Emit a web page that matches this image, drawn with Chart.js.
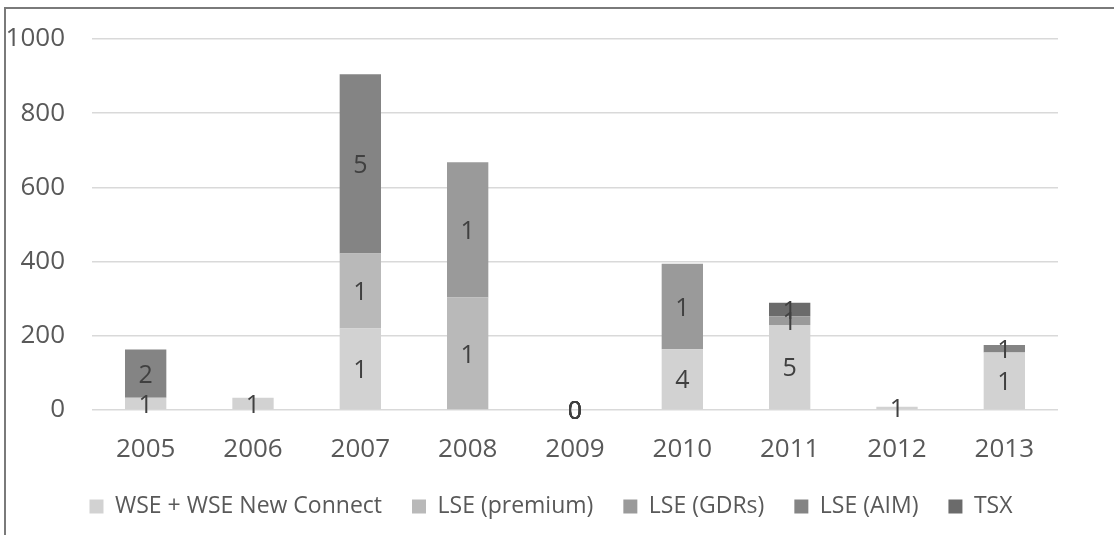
<!DOCTYPE html>
<html>
<head>
<meta charset="utf-8">
<script src="https://cdn.jsdelivr.net/npm/chart.js@4"></script>
<style>
  html, body { margin: 0; padding: 0; background: #fff; }
  #wrap { position: relative; width: 1114px; height: 535px; overflow: hidden; }
  #frame {
    position: absolute; left: 4px; top: 7px; right: -10px; bottom: -10px;
    border-top: 2px solid #7a7a7a; border-left: 2px solid #7a7a7a;
  }
  canvas { position: absolute; left: 0; top: 0; }
</style>
</head>
<body>
<div id="wrap">
  <div id="frame"></div>
  <canvas id="ipo-chart" width="1114" height="535"></canvas>
</div>
<script>
const years = ["2005", "2006", "2007", "2008", "2009", "2010", "2011", "2012", "2013"];
const yTicks = [0, 200, 400, 600, 800, 1000];

// offering values per market (stacked)
const wseValues     = [33, 33, 220, 0, 0, 164, 229, 9, 155];
const premiumValues = [0, 0, 202, 303, 0, 0, 0, 0, 0];
const gdrValues     = [0, 0, 0, 365, 0, 230, 24, 0, 0];
const aimValues     = [130, 0, 483, 0, 0, 0, 0, 0, 20];
const tsxValues     = [0, 0, 0, 0, 0, 0, 36, 0, 0];

// number of listings written on each segment (null = no label)
const wseCounts     = [1, 1, 1, null, 0, 4, 5, 1, 1];
const premiumCounts = [null, null, 1, 1, 0, null, null, null, null];
const gdrCounts     = [null, null, null, 1, 0, 1, 1, null, null];
const aimCounts     = [2, null, 5, null, 0, null, null, null, 1];
const tsxCounts     = [null, null, null, null, 0, null, 1, null, null];

const seriesNames  = ["WSE + WSE New Connect", "LSE (premium)", "LSE (GDRs)", "LSE (AIM)", "TSX"];
const seriesColors = ["#d2d2d2", "#b9b9b9", "#9a9a9a", "#848484", "#6b6b6b"];

const allValues = [wseValues, premiumValues, gdrValues, aimValues, tsxValues];
const allCounts = [wseCounts, premiumCounts, gdrCounts, aimCounts, tsxCounts];

const FONT = "'Open Sans', 'DejaVu Sans', sans-serif";

// writes the listing count in the middle of each segment
const segmentLabels = {
  id: "segmentLabels",
  afterDatasetsDraw(chart) {
    const ctx = chart.ctx;
    ctx.save();
    ctx.font = "25px " + FONT;
    ctx.fillStyle = "#404040";
    ctx.textAlign = "center";
    ctx.textBaseline = "middle";
    chart.data.datasets.forEach((ds, i) => {
      const meta = chart.getDatasetMeta(i);
      meta.data.forEach((bar, j) => {
        const n = ds.counts[j];
        if (n === null || n === undefined) return;
        const y = (bar.y + bar.base) / 2;
        ctx.fillText(String(n), bar.x, y + 2);
      });
    });
    ctx.restore();
  }
};

// legend is centred under the whole figure rather than the layout box
const legendShift = {
  id: "legendShift",
  afterLayout(chart) {
    chart.legend.left += 44;
  }
};

new Chart(document.getElementById("ipo-chart"), {
  type: "bar",
  data: {
    labels: years,
    datasets: seriesNames.map((name, i) => ({
      label: name,
      data: allValues[i],
      counts: allCounts[i],
      backgroundColor: seriesColors[i],
      borderWidth: 0,
      barPercentage: 0.385,
      categoryPercentage: 1.0,
    })),
  },
  options: {
    responsive: false,
    animation: false,
    layout: { padding: { left: 0, right: 56, top: 39, bottom: 7 } },
    scales: {
      x: {
        stacked: true,
        afterFit(scale) {
          scale.height = 55;
        },
        grid: { display: false, drawTicks: false },
        border: { display: false },
        ticks: { color: "#595959", font: { family: FONT, size: 26 }, padding: 24 },
      },
      y: {
        stacked: true,
        min: 0,
        max: 1000,
        afterBuildTicks(scale) {
          scale.ticks = yTicks.map((v) => ({ value: v }));
        },
        afterFit(scale) {
          scale.width = 92;
          // don't let the tick padding push the plot area down
          scale.paddingTop = 0;
          scale.paddingBottom = 0;
        },
        grid: { color: "#d9d9d9", lineWidth: 1.5, drawTicks: false },
        border: { display: false },
        ticks: {
          color: "#595959",
          font: { family: FONT, size: 26 },
          padding: 27,
          callback: (v) => String(v),
        },
      },
    },
    plugins: {
      legend: {
        position: "bottom",
        labels: {
          color: "#595959",
          font: { family: FONT, size: 23 },
          boxWidth: 14,
          boxHeight: 14,
          padding: 30,
        },
      },
      tooltip: { enabled: false },
    },
  },
  plugins: [segmentLabels, legendShift],
});
</script>
</body>
</html>
